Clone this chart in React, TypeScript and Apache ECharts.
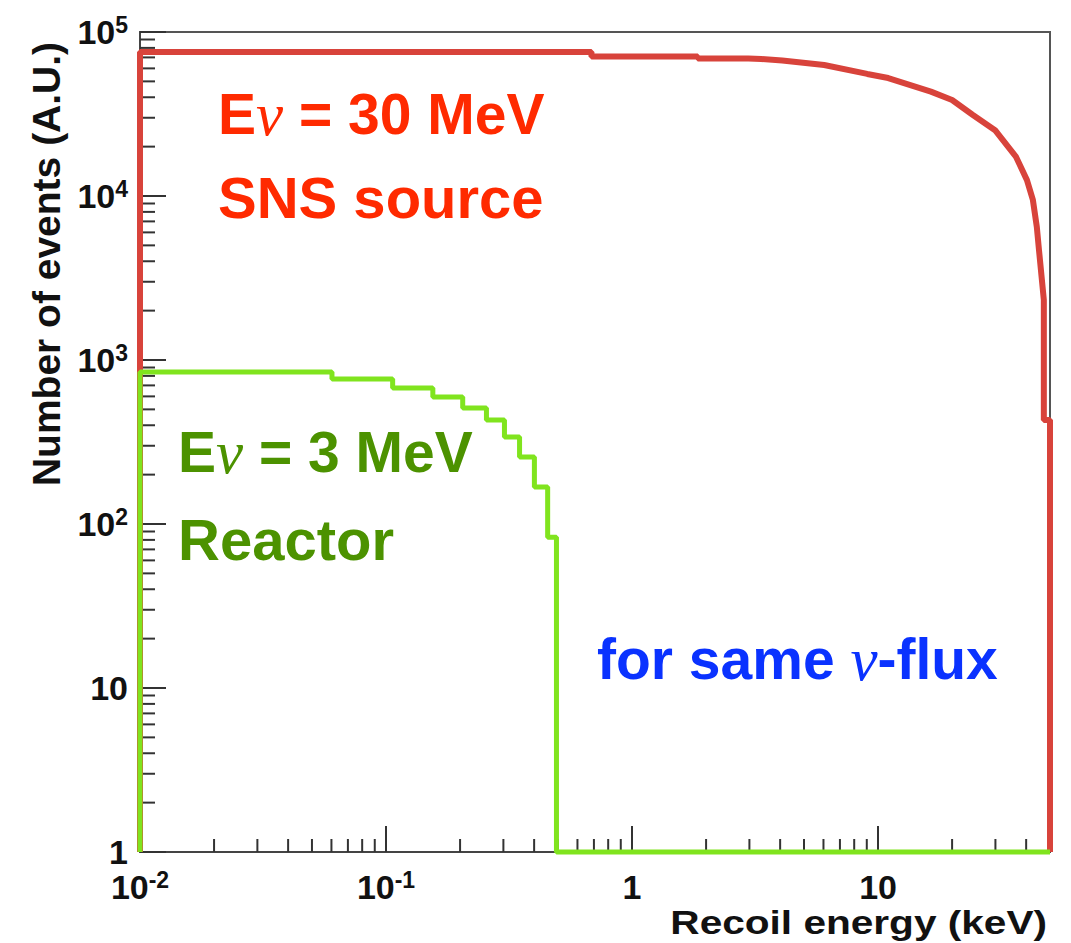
import React, { useEffect, useRef } from "react";
import * as echarts from "echarts";

// SNS source (E_nu = 30 MeV) spectrum
const snsEnergy = [0.01, 0.01, 0.684, 0.684, 1.85, 1.85, 2.97, 3.35, 4.08, 6.04, 9.04, 11.0, 16.4, 20.0, 24.3, 29.9, 36.4, 40.3, 42.6, 44.2, 45.1, 47.2, 47.2, 50, 50];
const snsCounts = [1, 75500, 75500, 71000, 71000, 69000, 69000, 68500, 67000, 62900, 55500, 52400, 43300, 38500, 31200, 25200, 17300, 12500, 9460, 6470, 4690, 2320, 430, 430, 1];

// Reactor (E_nu = 3 MeV) histogram: bin edges and contents
const reactorBinEdges = [0.01, 0.0603, 0.1064, 0.155, 0.205, 0.256, 0.303, 0.349, 0.401, 0.454, 0.493, 50];
const reactorCounts = [845, 766, 675, 595, 510, 431, 339, 256, 168, 83, 1];

// Axis ranges and tick labels
const xMin = 0.01;
const xMax = 50;
const yMin = 1;
const yMax = 100000;
const xTickLabels: Record<string, string> = { "-2": "{b|10}{s|-2}", "-1": "{b|10}{s|-1}", "0": "{b|1}", "1": "{b|10}" };
const yTickLabels: Record<string, string> = { "0": "{b|1}", "1": "{b|10}", "2": "{b|10}{s|2}", "3": "{b|10}{s|3}", "4": "{b|10}{s|4}", "5": "{b|10}{s|5}" };
const minorMultipliers = [2, 3, 4, 5, 6, 7, 8, 9];
const xDecades = [0.01, 0.1, 1, 10];
const yDecades = [1, 10, 100, 1000, 10000];

const FONT = "'Liberation Sans', Arial, Helvetica, sans-serif";
const SERIF = "'Liberation Serif', 'DejaVu Serif', serif";
const RED_TXT = "#ff2a00";
const GREEN_TXT = "#4c9200";
const BLUE_TXT = "#0a32ff";

function labelRich() {
  return {
    b: { fontSize: 34, fontWeight: "bold", fontFamily: FONT, color: "#111", lineHeight: 38 },
    s: { fontSize: 23, fontWeight: "bold", fontFamily: FONT, color: "#111", lineHeight: 22, verticalAlign: "top" },
  };
}

function annot(x: number, y: number, parts: [string, boolean][], color: string, size: number) {
  const text = parts.map(([t, nu]) => (nu ? `{n|${t}}` : `{t|${t}}`)).join("");
  return {
    type: "text",
    x,
    y,
    silent: true,
    style: {
      text,
      textAlign: "left",
      textVerticalAlign: "middle",
      rich: {
        t: { fontSize: size, fontWeight: "bold", fontFamily: FONT, fill: color, color },
        n: { fontSize: size + 4, fontStyle: "italic", fontWeight: "normal", fontFamily: SERIF, fill: color, color },
      },
    },
  };
}

export default function App() {
  const ref = useRef<HTMLDivElement>(null);

  useEffect(() => {
    if (!ref.current) return;
    const chart = echarts.init(ref.current, undefined, { renderer: "svg" });

    const snsData = snsEnergy.map((e, i) => [e, snsCounts[i]]);
    const reactorData: number[][] = [[reactorBinEdges[0], yMin]];
    reactorCounts.forEach((c, i) => {
      reactorData.push([reactorBinEdges[i], c], [reactorBinEdges[i + 1], c]);
    });

    const yMinor: number[][] = [];
    yDecades.forEach((d) => minorMultipliers.forEach((m) => yMinor.push([xMin, d * m])));
    const xMinor: number[][] = [];
    xDecades.forEach((d) =>
      minorMultipliers.forEach((m) => {
        if (d * m < xMax) xMinor.push([d * m, yMin]);
      })
    );

    const tickStyle = { stroke: "#333", lineWidth: 2 };

    chart.setOption({
      animation: false,
      grid: { left: 140, right: 21, top: 32, bottom: 91, show: true, borderColor: "#555", borderWidth: 2, backgroundColor: "transparent" },
      xAxis: {
        type: "log",
        logBase: 10,
        min: xMin,
        max: xMax,
        axisLine: { show: true, lineStyle: { color: "#444", width: 2 } },
        axisTick: { show: true, inside: true, length: 26, lineStyle: { color: "#333", width: 2 } },
        splitLine: { show: false },
        axisLabel: {
          margin: 16,
          showMaxLabel: false,
          formatter: (v: number) => xTickLabels[String(Math.round(Math.log10(v)))] ?? "",
          rich: labelRich(),
        },
      },
      yAxis: {
        type: "log",
        logBase: 10,
        min: yMin,
        max: yMax,
        axisLine: { show: true, lineStyle: { color: "#444", width: 2 } },
        axisTick: { show: true, inside: true, length: 26, lineStyle: { color: "#333", width: 2 } },
        splitLine: { show: false },
        axisLabel: {
          margin: 12,
          formatter: (v: number) => yTickLabels[String(Math.round(Math.log10(v)))] ?? "",
          rich: labelRich(),
        },
      },
      series: [
        {
          type: "custom",
          silent: true,
          z: 1,
          clip: false,
          data: yMinor,
          renderItem: (_p: any, api: any) => {
            const pt = api.coord([api.value(0), api.value(1)]);
            return { type: "line", shape: { x1: pt[0], y1: pt[1], x2: pt[0] + 15, y2: pt[1] }, style: tickStyle };
          },
        },
        {
          type: "custom",
          silent: true,
          z: 1,
          clip: false,
          data: xMinor,
          renderItem: (_p: any, api: any) => {
            const pt = api.coord([api.value(0), api.value(1)]);
            return { type: "line", shape: { x1: pt[0], y1: pt[1], x2: pt[0], y2: pt[1] - 13 }, style: tickStyle };
          },
        },
        {
          type: "line",
          name: "SNS",
          data: snsData,
          showSymbol: false,
          symbol: "none",
          clip: false,
          z: 3,
          lineStyle: { color: "#d8433b", width: 6 },
          silent: true,
        },
        {
          type: "line",
          name: "Reactor",
          data: reactorData,
          showSymbol: false,
          symbol: "none",
          clip: false,
          z: 4,
          lineStyle: { color: "#80e41e", width: 5 },
          silent: true,
        },
      ],
      graphic: [
        annot(218, 114, [["E", false], ["ν", true], [" = 30 MeV", false]], RED_TXT, 57),
        annot(218, 197, [["SNS source", false]], RED_TXT, 58),
        annot(178, 452, [["E", false], ["ν", true], [" = 3 MeV", false]], GREEN_TXT, 57),
        annot(178, 539, [["Reactor", false]], GREEN_TXT, 58),
        annot(597, 659, [["for same ", false], ["ν", true], ["-flux", false]], BLUE_TXT, 57),
        {
          type: "text",
          x: 46,
          y: 264,
          rotation: Math.PI / 2,
          silent: true,
          style: { text: "Number of events (A.U.)", font: `bold 39px ${FONT}`, fill: "#111", textAlign: "center", textVerticalAlign: "middle" },
        },
        {
          type: "text",
          x: 1047,
          y: 923,
          scaleX: 1.23,
          silent: true,
          style: { text: "Recoil energy (keV)", font: `bold 33px ${FONT}`, fill: "#111", textAlign: "right", textVerticalAlign: "middle" },
        },
      ],
    });

    return () => chart.dispose();
  }, []);

  return <div ref={ref} style={{ position: "absolute", left: 0, top: 0, width: 1071, height: 943, background: "#fff" }} />;
}
